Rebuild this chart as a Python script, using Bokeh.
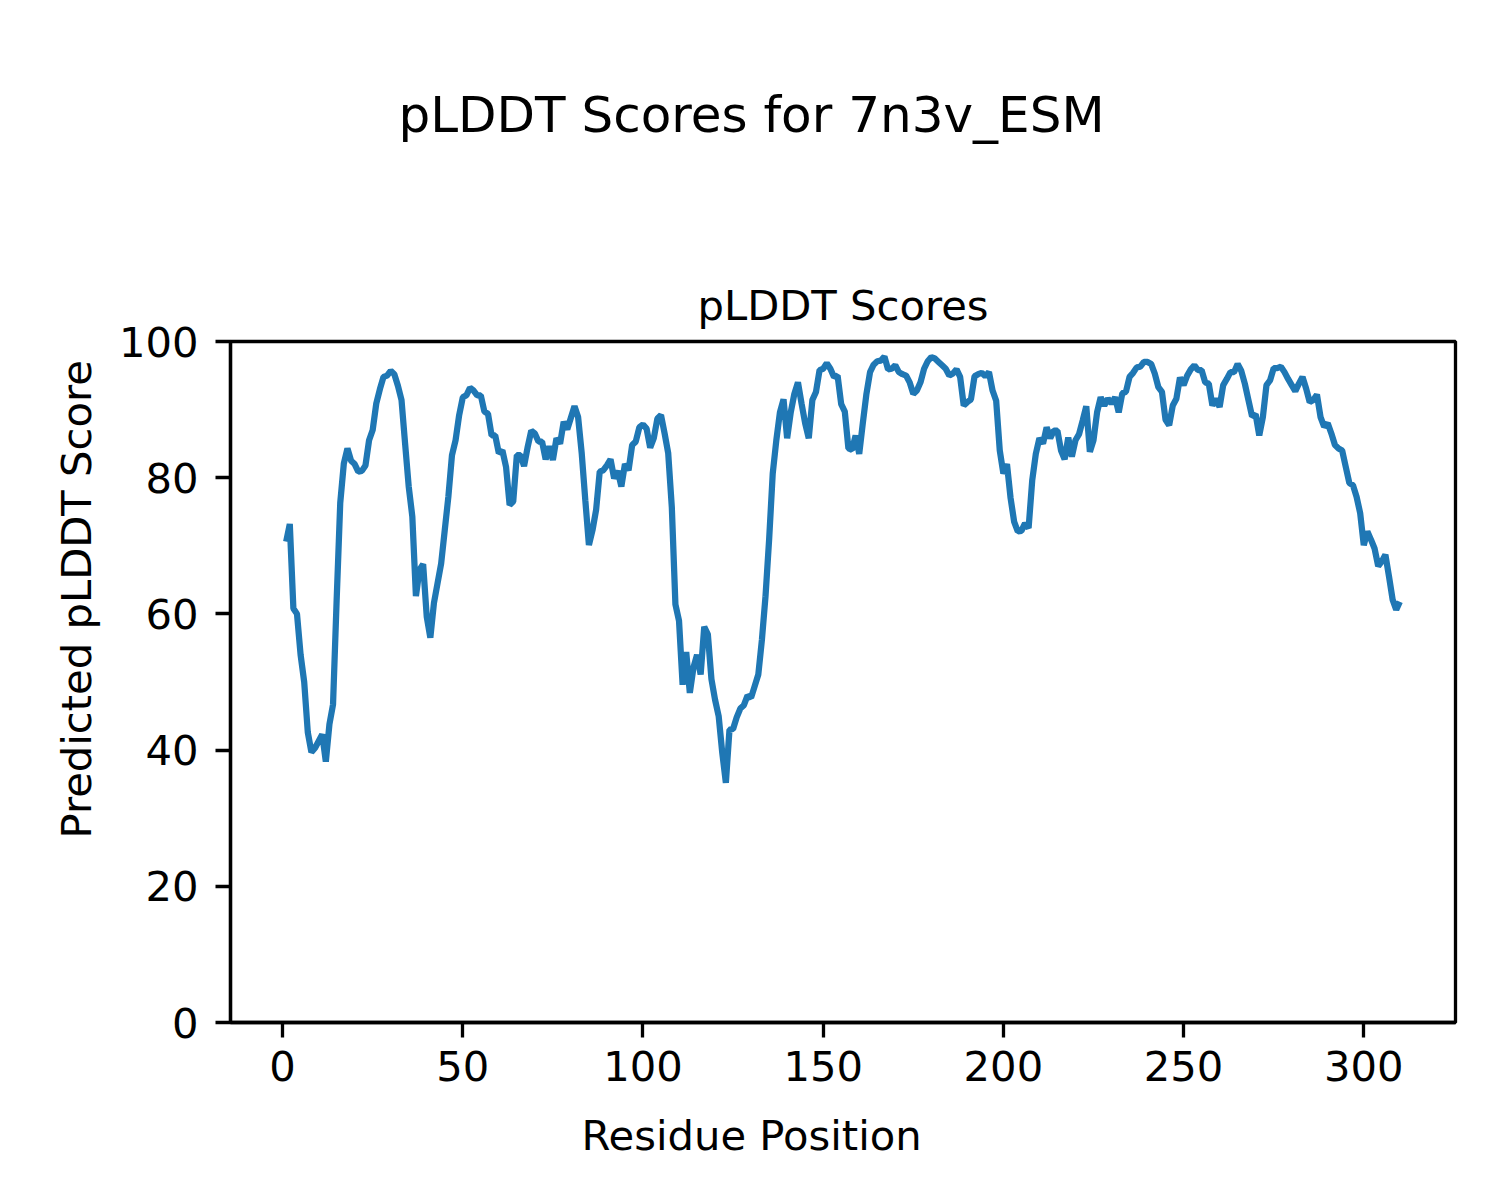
from bokeh.plotting import figure
from bokeh.models import Range1d, FixedTicker, Title, Label
from bokeh.layouts import column
from bokeh.embed import file_html
from bokeh.resources import INLINE

residue_position = list(range(1, 311))

plddt_scores = [
    70.6, 73.2, 60.8, 60.0, 54.0, 50.0, 42.6, 39.7, 40.3, 41.3,
    42.3, 38.3, 43.8, 46.7, 62.0, 76.3, 82.1, 84.3, 82.5, 82.0,
    80.9, 81.0, 81.8, 85.5, 87.0, 90.9, 93.0, 94.8, 95.0, 95.7,
    95.2, 93.5, 91.4, 85.0, 78.7, 74.3, 62.6, 66.5, 67.3, 59.6,
    56.5, 61.6, 64.5, 67.4, 72.3, 77.2, 83.3, 85.5, 89.2,
    91.8, 92.1, 93.2, 92.8, 92.1, 92.1, 89.7, 89.4, 86.2, 86.2,
    83.6, 84.0, 81.6, 76.0, 76.5, 83.3, 83.3, 81.7, 84.5, 86.9,
    86.5, 85.3, 85.3, 82.7, 84.6, 82.6, 85.8, 85.0, 88.2, 87.1,
    88.8, 90.5, 88.9, 83.6, 76.7, 70.1, 72.3, 75.3, 80.9, 81.1,
    81.8, 82.7, 79.9, 81.0, 78.7, 82.0, 81.1, 84.8, 85.3, 87.4,
    87.8, 87.2, 84.4, 85.8, 88.7, 89.2, 86.5, 83.6, 75.7, 61.4,
    59.0, 49.6, 54.4, 48.4, 52.1, 54.0, 51.1, 58.1, 57.0, 50.4,
    47.4, 45.0, 39.6, 35.2, 43.0, 43.1, 44.8, 46.1, 46.6, 48.0,
    47.7, 49.4, 51.1, 56.2, 62.6, 70.9, 80.6, 85.5, 89.6, 91.5,
    85.8, 89.6, 92.3, 94.0, 90.9, 88.0, 85.8, 91.4, 92.6, 95.8,
    96.0, 96.8, 96.0, 94.8, 95.0, 90.8, 89.7, 84.3, 84.1, 86.2,
    83.5, 88.0, 92.3, 95.5, 96.6, 97.1, 97.2, 97.8, 95.9, 96.0,
    96.5, 95.5, 95.2, 95.0, 94.0, 92.3, 92.8, 94.0, 96.0, 97.1,
    97.7, 97.5, 97.0, 96.5, 96.0, 95.0, 95.3, 95.9, 94.8, 90.6,
    91.1, 91.5, 94.9, 95.2, 95.4, 94.9, 95.5, 92.8, 91.3, 84.0,
    80.6, 82.0, 77.0, 73.5, 72.1, 72.2, 73.3, 72.6, 79.6, 83.5,
    85.8, 85.0, 87.4, 85.8, 86.9, 86.9, 84.0, 82.7, 85.9, 83.1,
    85.5, 86.4, 88.4, 90.5, 83.8, 85.5, 89.6, 91.8, 90.6, 91.6,
    90.9, 91.8, 89.6, 92.4, 92.6, 94.8, 95.4, 96.2, 96.3, 97.0,
    97.0, 96.7, 95.3, 93.3, 92.6, 88.5, 87.7, 90.6, 91.6, 94.7,
    93.6, 95.0, 95.9, 96.5, 95.8, 95.8, 94.0, 93.8, 90.6, 91.6,
    90.4, 93.6, 94.5, 95.5, 95.5, 96.7, 95.7, 93.8, 91.4, 89.0,
    89.3, 86.2, 88.9, 93.6, 94.3, 96.1, 96.1, 96.3, 95.5, 94.5,
    93.6, 92.7, 93.8, 94.8, 93.1, 91.1, 91.4, 92.2, 88.9, 87.5,
    88.0, 86.5, 84.8, 84.3, 84.0, 81.6, 79.2, 78.9, 77.2, 74.8,
    70.1, 72.1, 70.9, 69.6, 67.0, 67.7, 68.7, 65.5, 62.1, 60.6,
    61.8,
]

x_ticks = [0, 50, 100, 150, 200, 250, 300]
y_ticks = [0, 20, 40, 60, 80, 100]

suptitle_text = "pLDDT Scores for 7n3v_ESM"
axes_title_text = "pLDDT Scores"
x_label = "Residue Position"
y_label = "Predicted pLDDT Score"

FONT = "DejaVu Sans"
W = 1484
HEADER_H = 220
FRAME_L, FRAME_R = 230, 1455

# ---- header strip holding the figure-level title ----
# (its frame is aligned with the main plot's frame by the column layout,
#  so the x range is set so that one unit equals one page pixel)
header = figure(
    width=W, height=HEADER_H, output_backend="svg", toolbar_location=None,
    x_range=Range1d(FRAME_L, FRAME_R), y_range=Range1d(0, HEADER_H),
    x_axis_location=None, y_axis_location=None,
    min_border_left=0, min_border_right=0, min_border_top=0, min_border_bottom=0,
    outline_line_color=None, background_fill_color="white",
    border_fill_color="white",
)
header.grid.visible = False
header.add_layout(Label(x=398, y=HEADER_H - 133 + 19, text=suptitle_text,
                        text_font=FONT, text_font_size="50px",
                        text_color="black", text_align="left",
                        text_baseline="alphabetic"))

# ---- main plot ----
p = figure(
    width=W, height=1184 - HEADER_H,
    output_backend="svg", toolbar_location=None,
    x_range=Range1d(-14.45, 325.45), y_range=Range1d(0, 100),
    min_border_left=FRAME_L, min_border_right=W - FRAME_R,
    min_border_top=341 - HEADER_H, min_border_bottom=160,
    background_fill_color="white", border_fill_color="white",
)

p.title.text = axes_title_text
p.title.align = "center"
p.title.text_font = FONT
p.title.text_font_size = "41.7px"
p.title.text_font_style = "normal"
p.title.text_color = "black"
p.title.standoff = 24

p.line(residue_position, plddt_scores, line_color="#1f77b4", line_width=6.25)

p.grid.visible = False
p.outline_line_color = "black"
p.outline_line_width = 3.3

for ax in (p.xaxis, p.yaxis):
    ax.axis_line_color = "black"
    ax.axis_line_width = 3.3
    ax.major_tick_line_color = "black"
    ax.major_tick_line_width = 3.3
    ax.major_tick_out = 15
    ax.major_tick_in = 0
    ax.minor_tick_line_color = None
    ax.major_label_text_font = FONT
    ax.major_label_text_font_size = "41.7px"
    ax.major_label_text_color = "black"

p.xaxis.major_label_standoff = 13
p.yaxis.major_label_standoff = 17
p.xaxis.ticker = FixedTicker(ticks=x_ticks)
p.yaxis.ticker = FixedTicker(ticks=y_ticks)

# figure-level axis labels (centred on the figure, not the frame)
xlab = Title(text=x_label, align="left", offset=351, text_font=FONT,
             text_font_size="41.7px", text_font_style="normal",
             text_color="black", standoff=50)
p.add_layout(xlab, "below")

ylab = Title(text=y_label, align="left", offset=184, text_font=FONT,
             text_font_size="41.7px", text_font_style="normal",
             text_color="black", standoff=30)
p.add_layout(ylab, "left")

layout = column(header, p, spacing=0)
open("out.html", "w").write(file_html(layout, INLINE))
